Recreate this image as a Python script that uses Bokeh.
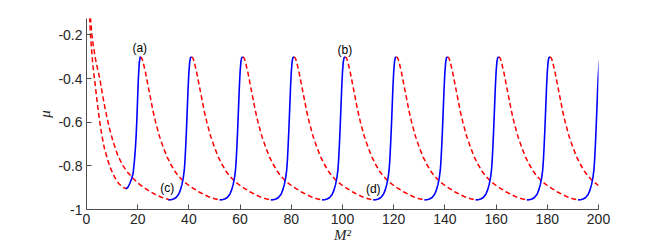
import numpy as np
from bokeh.plotting import figure
from bokeh.models import FixedTicker
from bokeh.embed import file_html
from bokeh.resources import INLINE
from bokeh.core.properties import value

# ---- data ----
# peak positions (M^2) of each periodic branch
peaks = [21, 41, 61, 81, 101, 121, 141, 161, 181, 201]

# stable (blue) branch: offsets from the peak and mu values
blue_dx = [-9.0, -8.0, -7.0, -6.0, -5.0, -4.3, -3.7, -3.2, -2.8, -2.5, -2.2, -1.9, -1.6, -1.3, -1.0, -0.7, -0.4, 0.0]
blue_mu = [-0.956, -0.955, -0.952, -0.945, -0.93, -0.91, -0.885, -0.855, -0.82, -0.77, -0.70, -0.62, -0.53, -0.44, -0.37, -0.325, -0.305, -0.30]

# unstable (red dashed) branch: offsets from the peak and mu values
red_dx = [0.0, 0.5, 1.0, 2.0, 3.0, 4.0, 5.0, 6.0, 7.5, 9.0, 10.5, 12.0, 13.5, 15.0, 17.0, 19.0, 21.0, 23.0, 25.0, 27.0, 29.0, 31.0]
red_mu = [-0.30, -0.305, -0.32, -0.37, -0.43, -0.49, -0.55, -0.60, -0.665, -0.715, -0.76, -0.795, -0.825, -0.848, -0.872, -0.89, -0.905, -0.92, -0.932, -0.943, -0.951, -0.956]

# first stable branch (starts higher)
blue0_x = [15.4, 16.2, 16.9, 17.6, 18.2, 18.7, 19.1, 19.4, 19.7, 20.0, 20.3, 20.6, 21.0]
blue0_mu = [-0.905, -0.898, -0.881, -0.86, -0.835, -0.78, -0.72, -0.66, -0.58, -0.48, -0.39, -0.33, -0.30]

# two initial unstable branches coming from the top
redA_x = [1.2, 1.55, 2.0, 2.5, 3.1, 3.8, 4.5, 5.2, 6.0, 7.0, 8.2, 9.5, 11.0, 12.5, 14.0, 15.4]
redA_mu = [-0.12, -0.2, -0.27, -0.34, -0.40, -0.47, -0.54, -0.60, -0.66, -0.72, -0.77, -0.815, -0.852, -0.88, -0.897, -0.905]
redB_x = [1.56, 2.1, 2.8, 3.5, 4.3, 5.2, 6.2, 7.4, 8.8, 10.4, 12.3, 14.3, 16.2, 18.2, 20.2, 22.1, 24.5, 27.0, 29.5, 32.5]
redB_mu = [-0.12, -0.2, -0.26, -0.31, -0.355, -0.40, -0.47, -0.546, -0.62, -0.69, -0.755, -0.80, -0.832, -0.858, -0.88, -0.897, -0.915, -0.932, -0.945, -0.955]

# annotations
ann_text = ["(a)", "(b)", "(c)", "(d)"]
ann_x = [20.8, 100.9, 31.5, 112.0]
ann_mu = [-0.262, -0.27, -0.902, -0.905]

x_ticks = [0, 20, 40, 60, 80, 100, 120, 140, 160, 180, 200]
y_ticks = [-1.0, -0.8, -0.6, -0.4, -0.2]
y_tick_labels = ["-1", "-0.8", "-0.6", "-0.4", "-0.2"]

# ---- figure ----
p = figure(width=661, height=248, x_range=(0, 200), y_range=(-1, -0.125),
           output_backend="svg", toolbar_location=None,
           min_border_left=86, min_border_right=63, min_border_top=18, min_border_bottom=39)
p.outline_line_color = None
p.grid.visible = False
p.background_fill_color = "white"

red_xs = [redA_x, redB_x] + [[pk + d for d in red_dx] for pk in peaks[:-1]]
red_ys = [redA_mu, redB_mu] + [list(red_mu) for pk in peaks[:-1]]
blue_xs = [blue0_x] + [[pk + d for d in blue_dx] for pk in peaks[1:]]
blue_ys = [blue0_mu] + [list(blue_mu) for pk in peaks[1:]]

p.multi_line(red_xs, red_ys, line_color="#ff0000", line_width=1.5, line_dash="5 3")
p.multi_line(blue_xs, blue_ys, line_color="#0000ff", line_width=1.6)

p.text(x=ann_x, y=ann_mu, text=ann_text, text_align="center", text_baseline="middle",
       text_font=value("Liberation Sans"), text_font_size="12px", text_color="#000000")

for ax in (p.xaxis[0], p.yaxis[0]):
    ax.axis_line_color = "#4d4d4d"
    ax.major_tick_line_color = "#4d4d4d"
    ax.major_tick_in = 5
    ax.major_tick_out = 0
    ax.minor_tick_line_color = None
    ax.major_label_text_font = "Liberation Sans"
    ax.major_label_text_font_size = "14px"
    ax.major_label_text_color = "#262626"

p.xaxis.ticker = FixedTicker(ticks=x_ticks)
p.yaxis.ticker = FixedTicker(ticks=y_ticks)
p.yaxis.major_label_overrides = {t: s for t, s in zip(y_ticks, y_tick_labels)}
p.xaxis.major_label_standoff = 4
p.yaxis.major_label_standoff = 4

p.yaxis.axis_label = "μ"
p.yaxis.axis_label_text_font = "Liberation Serif"
p.yaxis.axis_label_text_font_style = "italic"
p.yaxis.axis_label_text_font_size = "15px"
p.yaxis.axis_label_text_color = "#262626"
p.yaxis.axis_label_standoff = 2

p.xaxis.axis_label = "M²"
p.xaxis.axis_label_text_font = "Liberation Serif"
p.xaxis.axis_label_text_font_style = "italic"
p.xaxis.axis_label_text_font_size = "15px"
p.xaxis.axis_label_text_color = "#262626"
p.xaxis.axis_label_standoff = 0

open("out.html", "w").write(file_html(p, INLINE))
